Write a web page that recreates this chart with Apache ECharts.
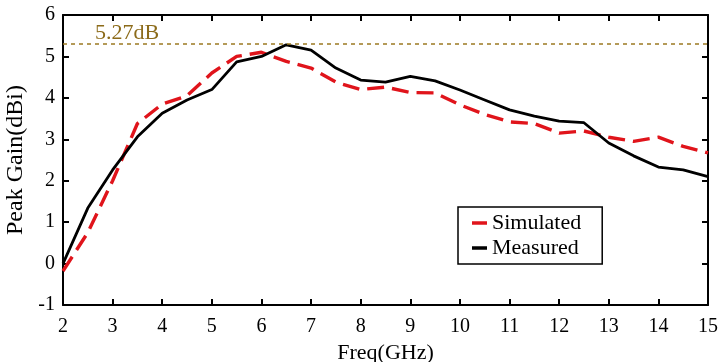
<!DOCTYPE html>
<html><head><meta charset="utf-8">
<script src="https://cdn.jsdelivr.net/npm/echarts@6/dist/echarts.min.js"></script>
<style>html,body{margin:0;padding:0;background:#fff}#c{width:719px;height:362px}</style>
</head><body><div id="c"></div>
<script>
const freq = [2,2.5,3,3.5,4,4.5,5,5.5,6,6.5,7,7.5,8,8.5,9,9.5,10,10.5,11,11.5,12,12.5,13,13.5,14,14.5,15];
const simulated = [-0.18,0.75,2.0,3.38,3.85,4.05,4.6,5.0,5.1,4.88,4.72,4.38,4.2,4.26,4.13,4.12,3.83,3.6,3.42,3.38,3.15,3.2,3.05,2.95,3.05,2.83,2.67];
const measured = [0.0,1.34,2.26,3.06,3.63,3.95,4.2,4.87,5.0,5.28,5.15,4.72,4.43,4.38,4.52,4.41,4.19,3.95,3.71,3.56,3.44,3.4,2.91,2.6,2.33,2.26,2.1];
const refLevel = 5.3;
const refText = '5.27dB';

const font = 'Liberation Serif';
const chart = echarts.init(document.getElementById('c'));
const axisBase = () => ({
  axisLine:{show:true,onZero:false,lineStyle:{color:'#000',width:2}},
  axisTick:{show:true,inside:true,length:6,lineStyle:{color:'#000',width:2}},
  splitLine:{show:false}
});
chart.setOption({
  animation:false,
  textStyle:{fontFamily:font},
  grid:{left:63,right:11,top:15,bottom:57,containLabel:false,outerBoundsMode:'none'},
  legend:{
    left:458, top:207, orient:'vertical', itemGap:3,
    padding:[5,21,5,14], borderColor:'#000', borderWidth:1.5,
    icon:'rect', itemWidth:15, itemHeight:3.5,
    textStyle:{fontFamily:font,fontSize:22,color:'#000',padding:[0,0,0,0]},
    data:['Simulated','Measured']
  },
  xAxis:[
    Object.assign(axisBase(),{type:'value',min:2,max:15,interval:1,position:'bottom',
      name:'Freq(GHz)',nameLocation:'middle',nameGap:34,
      nameTextStyle:{fontFamily:font,fontSize:22,color:'#000'},
      axisLabel:{fontFamily:font,fontSize:20,color:'#000',margin:12}}),
    Object.assign(axisBase(),{type:'value',min:2,max:15,interval:1,position:'top',axisLabel:{show:false}})
  ],
  yAxis:[
    Object.assign(axisBase(),{type:'value',min:-1,max:6,interval:1,position:'left',
      name:'Peak Gain(dBi)',nameLocation:'middle',nameGap:22,
      nameTextStyle:{fontFamily:font,fontSize:24,color:'#000'},
      axisLabel:{fontFamily:font,fontSize:20,color:'#000',margin:8}}),
    Object.assign(axisBase(),{type:'value',min:-1,max:6,interval:1,position:'right',axisLabel:{show:false}})
  ],
  series:[
    {name:'Simulated',type:'line',showSymbol:false,
     data:freq.map((f,i)=>[f,simulated[i]]),
     lineStyle:{color:'#E0141B',width:3.4,type:[17,8]},itemStyle:{color:'#E0141B'},z:3},
    {name:'Measured',type:'line',showSymbol:false,
     data:freq.map((f,i)=>[f,measured[i]]),
     lineStyle:{color:'#000',width:2.8},itemStyle:{color:'#000'},z:4,
     markLine:{silent:true,symbol:'none',
       lineStyle:{color:'#9C7A22',width:1.5,type:[4,4]},
       label:{show:true,position:'insideStartTop',formatter:refText,distance:[32,0],
         fontFamily:font,fontSize:22,color:'#8C6B1A'},
       data:[{yAxis:refLevel}]}}
  ]
});
</script></body></html>
